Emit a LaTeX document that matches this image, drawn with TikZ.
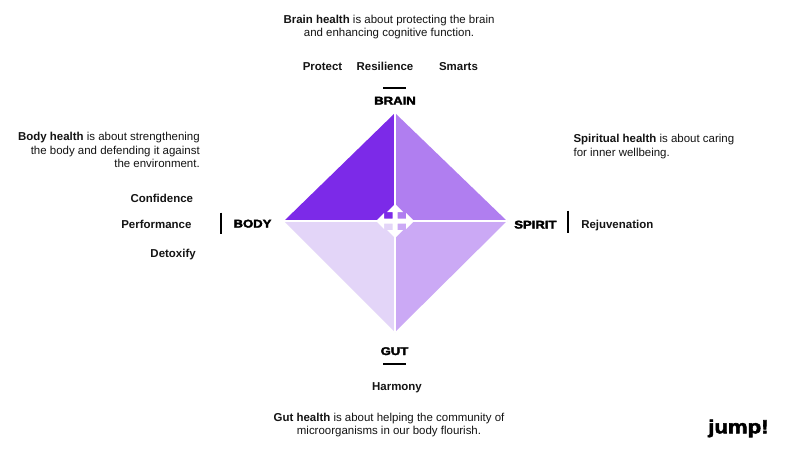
\documentclass[tikz,border=0pt]{standalone}
\usepackage{fontspec}
\setmainfont{Liberation Sans}
\newfontfamily\heavy{Liberation Sans}[FakeStretch=1.17,FakeBold=3]
\definecolor{qtl}{RGB}{124,42,232}
\definecolor{qtr}{RGB}{176,126,240}
\definecolor{qbl}{RGB}{227,213,248}
\definecolor{qbr}{RGB}{203,169,245}
\definecolor{ink}{RGB}{20,20,20}
\tikzset{
  desc/.style={font=\fontsize{8.6}{10}\selectfont, inner sep=0, anchor=base, text=ink},
  kw/.style={font=\fontsize{8.6}{10}\selectfont\bfseries, inner sep=0, anchor=base, text=ink},
  cat/.style={font=\heavy\bfseries\fontsize{8.4}{10}\selectfont, inner sep=0, anchor=base, text=black},
  barline/.style={line width=1.6pt, black},
  divider/.style={white, line width=0.8pt}
}
\begin{document}
\begin{tikzpicture}[x=0.75pt,y=-0.75pt]
\useasboundingbox (0,0) rectangle (800,450);
\fill[white] (0,0) rectangle (800,450);
% diamond
\coordinate (T) at (395,113);
\coordinate (L) at (284,221);
\coordinate (R) at (507,221);
\coordinate (B) at (395,332);
\coordinate (C) at (395,221);
\fill[qtl] (C) -- (L) -- (T) -- cycle;
\fill[qtr] (C) -- (T) -- (R) -- cycle;
\fill[qbl] (C) -- (L) -- (B) -- cycle;
\fill[qbr] (C) -- (B) -- (R) -- cycle;
\draw[divider] (T) -- (B);
\draw[divider] (L) -- (R);
% centre icon
\begin{scope}[shift={(C)}]
\fill[white] (0,-17) -- (8,-9) -- (2.5,-9) -- (2.5,-2.5) -- (11,-2.5) -- (11,-8) -- (19,0)
  -- (11,8) -- (11,2.5) -- (2.5,2.5) -- (2.5,9) -- (8,9) -- (0,17) -- (-8,9) -- (-2.5,9)
  -- (-2.5,2.5) -- (-11,2.5) -- (-11,8) -- (-19,0) -- (-11,-8) -- (-11,-2.5) -- (-2.5,-2.5)
  -- (-2.5,-9) -- (-8,-9) -- cycle;
\end{scope}
% brain
\node[desc] (b1) at (389,23.3) {\textbf{Brain health} is about protecting the brain};
\node[desc] (b2) at (389,36.7) {and enhancing cognitive function.};
\node[kw] (protect) at (322.5,70) {Protect};
\node[kw] (resil) at (385,70) {Resilience};
\node[kw] (smarts) at (458.5,70) {Smarts};
\draw[barline] (383,88) -- (406,88);
\node[cat] (brain) at (395,104.5) {BRAIN};
% body
\node[desc, anchor=base east] (d1) at (200,140.7) {\textbf{Body health} is about strengthening};
\node[desc, anchor=base east] (d2) at (200,154) {the body and defending it against};
\node[desc, anchor=base east] (d3) at (200,167.3) {the environment.};
\node[kw, anchor=base east] (conf) at (193.3,202) {Confidence};
\node[kw, anchor=base east] (perf) at (191.7,228) {Performance};
\node[kw, anchor=base east] (detox) at (196,257) {Detoxify};
\draw[barline] (221,212.5) -- (221,234);
\node[cat, anchor=base west] (body) at (233.3,227.5) {BODY};
% spirit
\node[desc, anchor=base west] (s1) at (573.3,142.5) {\textbf{Spiritual health} is about caring};
\node[desc, anchor=base west] (s2) at (573.3,156) {for inner wellbeing.};
\node[cat, anchor=base west] (spirit) at (514,228.5) {SPIRIT};
\draw[barline] (568.3,210.5) -- (568.3,232.5);
\node[kw, anchor=base west] (rejuv) at (581,228.5) {Rejuvenation};
% gut
\node[cat] (gut) at (394.5,355) {GUT};
\draw[barline] (383,363.7) -- (406,363.7);
\node[kw] (harmony) at (397,390) {Harmony};
\node[desc] (g1) at (389,421) {\textbf{Gut health} is about helping the community of};
\node[desc] (g2) at (389,434.3) {microorganisms in our body flourish.};
% logo
\node[font=\heavy\bfseries\fontsize{14.2}{16}\selectfont, inner sep=0, anchor=base west] (logo) at (708,433.3) {jump!};
\end{tikzpicture}
\end{document}
